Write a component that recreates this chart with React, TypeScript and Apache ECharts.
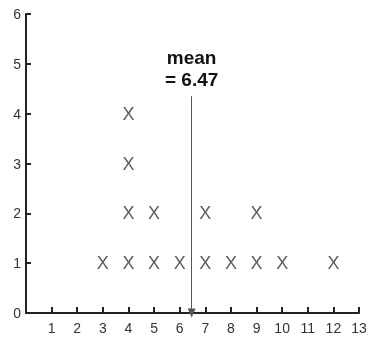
import React, { useEffect, useRef } from "react";
import * as echarts from "echarts";

const xValues = [3, 4, 5, 6, 7, 8, 9, 10, 12];
const counts = [1, 4, 2, 1, 2, 1, 2, 1, 1];
const xTicks = [1, 2, 3, 4, 5, 6, 7, 8, 9, 10, 11, 12, 13];
const yTicks = [0, 1, 2, 3, 4, 5, 6];
const arrowTop = 4.35;

export default function App() {
  const ref = useRef<HTMLDivElement>(null);
  useEffect(() => {
    if (!ref.current) return;
    const chart = echarts.init(ref.current, undefined, { renderer: "svg" });
    const points: number[][] = [];
    xValues.forEach((x, i) => {
      for (let k = 1; k <= counts[i]; k++) points.push([x, k]);
    });
    const total = counts.reduce((a, b) => a + b, 0);
    const sum = xValues.reduce((a, x, i) => a + x * counts[i], 0);
    const mean = sum / total;
    const font = "'Liberation Sans', Arial, sans-serif";
    chart.setOption({
      animation: false,
      grid: { left: 26, right: 11, top: 14, bottom: 25 },
      xAxis: {
        type: "value",
        min: 0,
        max: xTicks[xTicks.length - 1],
        interval: 1,
        splitLine: { show: false },
        axisLine: { show: true, lineStyle: { color: "#222", width: 2 } },
        axisTick: { show: true, inside: true, length: 6, lineStyle: { color: "#222", width: 2 } },
        axisLabel: {
          color: "#333",
          fontSize: 14,
          fontFamily: font,
          margin: 8,
          formatter: (v: number) => (xTicks.includes(v) ? String(v) : ""),
        },
      },
      yAxis: {
        type: "value",
        min: yTicks[0],
        max: yTicks[yTicks.length - 1],
        interval: 1,
        splitLine: { show: false },
        axisLine: { show: true, lineStyle: { color: "#222", width: 2 } },
        axisTick: { show: true, inside: true, length: 5, lineStyle: { color: "#222", width: 2 } },
        axisLabel: { color: "#333", fontSize: 14, fontFamily: font, margin: 5 },
      },
      series: [
        {
          type: "scatter",
          data: points,
          symbolSize: 1,
          itemStyle: { color: "rgba(0,0,0,0)" },
          label: {
            show: true,
            position: "inside",
            formatter: "X",
            fontSize: 18,
            fontFamily: font,
            color: "#333",
          },
          markLine: {
            silent: true,
            symbol: ["none", "triangle"],
            symbolSize: [8, 9],
            lineStyle: { color: "#555", width: 1, type: "solid" },
            label: {
              show: true,
              position: "start",
              distance: 6,
              formatter: "mean\n= " + mean.toFixed(2),
              fontSize: 19,
              fontWeight: "bold",
              fontFamily: font,
              color: "#111",
              lineHeight: 22,
              align: "center",
            },
            data: [[{ coord: [mean, arrowTop] }, { coord: [mean, 0] }]],
          },
        },
      ],
    });
    return () => chart.dispose();
  }, []);
  return (
    <div
      ref={ref}
      style={{ position: "fixed", left: 0, top: 0, width: 370, height: 338 }}
    />
  );
}
